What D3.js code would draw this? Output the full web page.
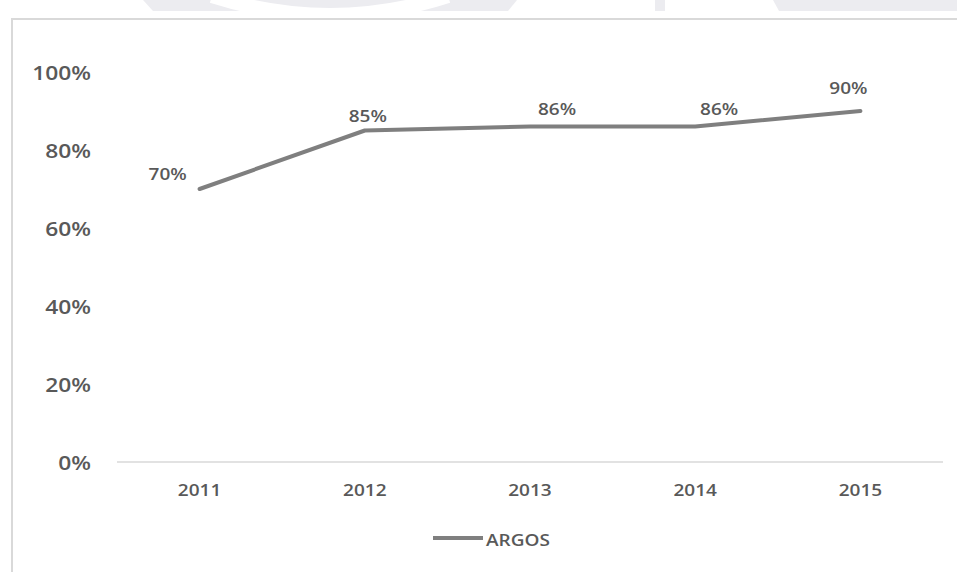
<!DOCTYPE html>
<html>
<head>
<meta charset="utf-8">
<script src="https://cdn.jsdelivr.net/npm/d3@7"></script>
<style>
  html, body { margin: 0; padding: 0; background: #fff; }
  svg { display: block; }
  text { font-family: "Open Sans", sans-serif; fill: #595959; font-weight: 600; }
</style>
</head>
<body>
<svg id="chart"></svg>
<script>
// data
const years = ['2011', '2012', '2013', '2014', '2015'];
const argos = [0.70, 0.85, 0.86, 0.86, 0.90];
const yTicks = [0, 0.2, 0.4, 0.6, 0.8, 1.0];
const seriesName = 'ARGOS';

// label nudges (style only), dx/dy from the point
const labelNudge = [[-32, -15], [3, -15], [27, -18], [24, -18], [-12, -23]];

const width = 957, height = 572;
const svg = d3.select('#chart').attr('width', width).attr('height', height);

// faint watermark strip at the very top
const wm = svg.append('g');
wm.append('path').attr('d', 'M143,0 L957,0 L957,11 L153,11 Z').attr('fill', '#ececf0');
wm.append('path').attr('d', 'M212,-4 Q330,34 448,-4').attr('fill', 'none')
  .attr('stroke', '#fff').attr('stroke-width', 14);
wm.append('path').attr('d', 'M517,0 L655,0 L655,11 L508,11 Z').attr('fill', '#fff');
wm.append('path').attr('d', 'M665,0 L773,0 L779,11 L665,11 Z').attr('fill', '#fff');

// chart frame
svg.append('path').attr('d', 'M12,572 L12,19 L957,19')
  .attr('fill', 'none').attr('stroke', '#d9d9d9').attr('stroke-width', 2);

const plotLeft = 117, plotRight = 943, plotTop = 72, plotBottom = 462;

const x = d3.scaleBand().domain(years).range([plotLeft, plotRight]);
const y = d3.scaleLinear().domain([0, 1]).range([plotBottom, plotTop]);
const px = d => x(d) + x.bandwidth() / 2;

// stretched text helper (the source text is wider than normal)
function stext(g, tx, ty, str, size, sx, anchor) {
  return g.append('text')
    .attr('transform', `translate(${tx},${ty}) scale(${sx},1)`)
    .attr('text-anchor', anchor)
    .style('font-size', size + 'px')
    .text(str);
}

// y axis labels
const yg = svg.append('g');
yTicks.forEach(t => {
  stext(yg, 91, y(t) + 8, d3.format('.0%')(t), 19, 1.2, 'end');
});

// x axis baseline
svg.append('line')
  .attr('x1', plotLeft).attr('x2', plotRight)
  .attr('y1', y(0)).attr('y2', y(0))
  .attr('stroke', '#d9d9d9').attr('stroke-width', 1.5);

// x labels
const xg = svg.append('g');
years.forEach(yr => stext(xg, px(yr), 496, yr, 17, 1.12, 'middle'));

// line
const line = d3.line().x((d, i) => px(years[i])).y(d => y(d));
svg.append('path')
  .datum(argos)
  .attr('d', line)
  .attr('fill', 'none')
  .attr('stroke', '#7f7f7f')
  .attr('stroke-width', 4)
  .attr('stroke-linecap', 'round')
  .attr('stroke-linejoin', 'round');

// data labels
const lg = svg.append('g');
argos.forEach((v, i) => {
  stext(lg, px(years[i]) + labelNudge[i][0], y(v) + labelNudge[i][1] + 6,
    d3.format('.0%')(v), 17, 1.12, 'middle');
});

// legend
const leg = svg.append('g');
leg.append('line').attr('x1', 433).attr('x2', 483).attr('y1', 538).attr('y2', 538)
  .attr('stroke', '#7f7f7f').attr('stroke-width', 4);
stext(leg, 486, 546, seriesName, 17, 1.12, 'start');
</script>
</body>
</html>
